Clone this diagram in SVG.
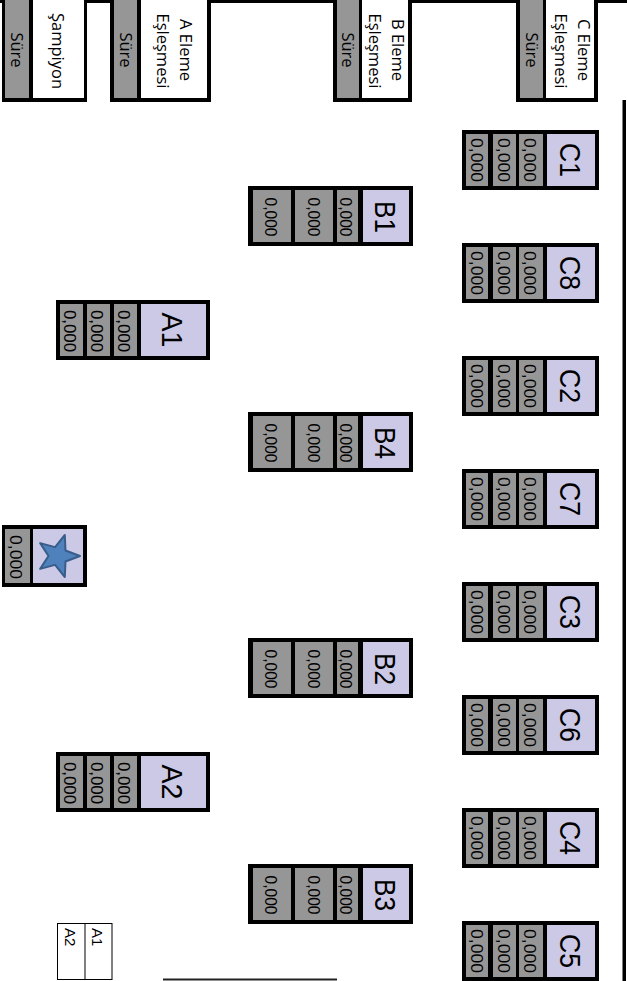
<svg xmlns="http://www.w3.org/2000/svg" width="627" height="981" viewBox="0 0 627 981">
<style>
.blk{fill:#000}
.g{fill:#969696}
.l{fill:#ccc9e6}
.w{fill:#fff}
.v{font-family:"Liberation Sans",Arial,sans-serif;font-size:17px;fill:#000;text-anchor:middle}
.lb{font-family:"Liberation Sans",Arial,sans-serif;font-size:30px;fill:#000;text-anchor:middle}
.h{font-family:"Open Sans","Liberation Sans",sans-serif;font-size:16.5px;fill:#000;text-anchor:middle}
.lg{font-family:"Liberation Sans",Arial,sans-serif;font-size:15px;fill:#000}
</style>
<rect width="627" height="981" fill="#fff"/>
<g id="frame">
<rect x="0" y="0" width="627" height="3" class="blk"/>
<rect x="622.5" y="100" width="3.5" height="881" class="blk"/>
<line x1="163" y1="979.5" x2="337" y2="979.5" stroke="#222" stroke-width="2"/>
</g>
<g id="connectors"></g>
<g id="hdr-champion">
<rect x="2" y="0" width="85" height="102" class="blk"/>
<rect x="5" y="0" width="24" height="98" class="g"/>
<rect x="33" y="0" width="51" height="98" class="w"/>
<text class="h" transform="translate(11,50) rotate(90)">Süre</text>
<text class="h" transform="translate(51.5,51) rotate(90)">Şampiyon</text>
</g>
<g id="hdr-a">
<rect x="110" y="0" width="101" height="102" class="blk"/>
<rect x="114" y="0" width="23" height="98" class="g"/>
<rect x="141" y="0" width="66" height="98" class="w"/>
<text class="h" transform="translate(119.5,50) rotate(90)">Süre</text>
<text class="h" transform="translate(180,50) rotate(90)">A Eleme</text>
<text class="h" transform="translate(157,51) rotate(90)">Eşleşmesi</text>
</g>
<g id="hdr-b">
<rect x="333" y="0" width="79" height="102" class="blk"/>
<rect x="337" y="0" width="22" height="98" class="g"/>
<rect x="362" y="0" width="46" height="98" class="w"/>
<text class="h" transform="translate(342,50) rotate(90)">Süre</text>
<text class="h" transform="translate(392,50) rotate(90)">B Eleme</text>
<text class="h" transform="translate(369,51) rotate(90)">Eşleşmesi</text>
</g>
<g id="hdr-c">
<rect x="516" y="0" width="82" height="102" class="blk"/>
<rect x="520" y="0" width="23" height="98" class="g"/>
<rect x="546" y="0" width="48" height="98" class="w"/>
<text class="h" transform="translate(525.5,50) rotate(90)">Süre</text>
<text class="h" transform="translate(578,50) rotate(90)">C Eleme</text>
<text class="h" transform="translate(555,51) rotate(90)">Eşleşmesi</text>
</g>
<defs>
<g id="cnode">
<rect x="462" y="0" width="137" height="60" class="blk"/>
<rect x="466" y="4" width="22" height="52" class="g"/>
<rect x="493" y="4" width="23" height="52" class="g"/>
<rect x="519" y="4" width="24" height="52" class="g"/>
<rect x="547" y="4" width="48" height="52" class="l"/>
<text class="v" transform="translate(471,30) rotate(90)" textLength="44" lengthAdjust="spacingAndGlyphs">0,000</text>
<text class="v" transform="translate(497.5,30) rotate(90)" textLength="44" lengthAdjust="spacingAndGlyphs">0,000</text>
<text class="v" transform="translate(524,30) rotate(90)" textLength="44" lengthAdjust="spacingAndGlyphs">0,000</text>
</g>
<g id="bnode">
<rect x="248" y="0" width="165" height="60" class="blk"/>
<rect x="253" y="4" width="38" height="52" class="g"/>
<rect x="295" y="4" width="38" height="52" class="g"/>
<rect x="337" y="4" width="21" height="52" class="g"/>
<rect x="363" y="4" width="46" height="52" class="l"/>
<text class="v" transform="translate(265,31) rotate(90)" textLength="39" lengthAdjust="spacingAndGlyphs">0,000</text>
<text class="v" transform="translate(308,31) rotate(90)" textLength="39" lengthAdjust="spacingAndGlyphs">0,000</text>
<text class="v" transform="translate(340,31) rotate(90)" textLength="39" lengthAdjust="spacingAndGlyphs">0,000</text>
</g>
<g id="anode">
<rect x="56" y="0" width="154" height="60" class="blk"/>
<rect x="60" y="4" width="23" height="52" class="g"/>
<rect x="87" y="4" width="23" height="52" class="g"/>
<rect x="114" y="4" width="23" height="52" class="g"/>
<rect x="141" y="4" width="65" height="52" class="l"/>
<text class="v" transform="translate(64,31) rotate(90)" textLength="42" lengthAdjust="spacingAndGlyphs">0,000</text>
<text class="v" transform="translate(91,31) rotate(90)" textLength="42" lengthAdjust="spacingAndGlyphs">0,000</text>
<text class="v" transform="translate(118,31) rotate(90)" textLength="42" lengthAdjust="spacingAndGlyphs">0,000</text>
</g>
</defs>
<g id="C1"><use href="#cnode" y="130"/><text class="lb" transform="translate(560,160) rotate(90)" textLength="34" lengthAdjust="spacingAndGlyphs">C1</text></g>
<g id="C8"><use href="#cnode" y="243"/><text class="lb" transform="translate(560,273) rotate(90)" textLength="34" lengthAdjust="spacingAndGlyphs">C8</text></g>
<g id="C2"><use href="#cnode" y="356"/><text class="lb" transform="translate(560,386) rotate(90)" textLength="34" lengthAdjust="spacingAndGlyphs">C2</text></g>
<g id="C7"><use href="#cnode" y="469"/><text class="lb" transform="translate(560,499) rotate(90)" textLength="34" lengthAdjust="spacingAndGlyphs">C7</text></g>
<g id="C3"><use href="#cnode" y="582"/><text class="lb" transform="translate(560,612) rotate(90)" textLength="34" lengthAdjust="spacingAndGlyphs">C3</text></g>
<g id="C6"><use href="#cnode" y="695"/><text class="lb" transform="translate(560,725) rotate(90)" textLength="34" lengthAdjust="spacingAndGlyphs">C6</text></g>
<g id="C4"><use href="#cnode" y="808"/><text class="lb" transform="translate(560,838) rotate(90)" textLength="34" lengthAdjust="spacingAndGlyphs">C4</text></g>
<g id="C5"><use href="#cnode" y="921"/><text class="lb" transform="translate(560,951) rotate(90)" textLength="34" lengthAdjust="spacingAndGlyphs">C5</text></g>
<g id="B1"><use href="#bnode" y="186"/><text class="lb" transform="translate(375,217) rotate(90)" textLength="32" lengthAdjust="spacingAndGlyphs">B1</text></g>
<g id="B4"><use href="#bnode" y="412"/><text class="lb" transform="translate(375,443) rotate(90)" textLength="32" lengthAdjust="spacingAndGlyphs">B4</text></g>
<g id="B2"><use href="#bnode" y="638"/><text class="lb" transform="translate(375,669) rotate(90)" textLength="32" lengthAdjust="spacingAndGlyphs">B2</text></g>
<g id="B3"><use href="#bnode" y="864"/><text class="lb" transform="translate(375,895) rotate(90)" textLength="32" lengthAdjust="spacingAndGlyphs">B3</text></g>
<g id="A1"><use href="#anode" y="300"/><text class="lb" transform="translate(162,330) rotate(90)" textLength="35" lengthAdjust="spacingAndGlyphs">A1</text></g>
<g id="A2"><use href="#anode" y="752"/><text class="lb" transform="translate(162,782) rotate(90)" textLength="35" lengthAdjust="spacingAndGlyphs">A2</text></g>
<g id="champion">
<rect x="2" y="525" width="85" height="62" class="blk"/>
<rect x="5" y="529" width="25" height="54" class="g"/>
<rect x="33" y="529" width="50" height="54" class="l"/>
<text class="v" transform="translate(10,557) rotate(90)" textLength="44" lengthAdjust="spacingAndGlyphs">0,000</text>
<polygon points="80,556 65.5,561.5 64.8,577 55.1,564.9 40.2,568.9 48.5,556 40.2,543.1 55.1,547.1 64.8,535 65.5,550.5" fill="#4f81bd" stroke="#385d8a" stroke-width="2" stroke-linejoin="round"/>
</g>
<g id="legend">
<rect x="57.5" y="923.5" width="54.5" height="56" fill="#fff" stroke="#000" stroke-width="1"/>
<line x1="85" y1="923.5" x2="85" y2="979.5" stroke="#000" stroke-width="1"/>
<text class="lg" transform="translate(92,928) rotate(90)">A1</text>
<text class="lg" transform="translate(65,928) rotate(90)">A2</text>
</g>
</svg>
